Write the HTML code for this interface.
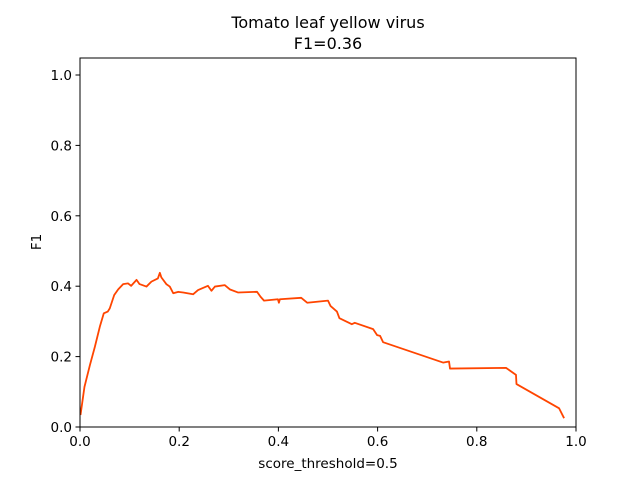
<!DOCTYPE html>
<html><head><meta charset="utf-8"><style>body{margin:0;background:#fff}svg{display:block;font-family:"DejaVu Sans","Liberation Sans",sans-serif}</style></head>
<body>
<svg id="chart" width="640" height="480">
<rect width="640" height="480" fill="#fff"/>
<text x="328" y="28" text-anchor="middle" font-size="16">Tomato leaf yellow virus</text>
<text x="328" y="49" text-anchor="middle" font-size="16">F1=0.36</text>
<g id="plot"></g>
<rect x="80" y="58" width="496" height="369" fill="none" stroke="#000" stroke-width="1"/>
<text x="328" y="468" text-anchor="middle" font-size="13.5">score_threshold=0.5</text>
<text transform="translate(41,242) rotate(-90)" text-anchor="middle" font-size="13.5">F1</text>
</svg>
<script>
const xTicks=[0,0.2,0.4,0.6,0.8,1.0];
const xTickLabels=["0.0","0.2","0.4","0.6","0.8","1.0"];
const yTicks=[0,0.2,0.4,0.6,0.8,1.0];
const yTickLabels=["0.0","0.2","0.4","0.6","0.8","1.0"];
const thresholds=[0.001,0.009,0.020,0.030,0.040,0.048,0.056,0.060,0.069,0.077,0.087,0.097,0.103,0.114,0.120,0.134,0.144,0.157,0.161,0.164,0.174,0.181,0.188,0.198,0.208,0.228,0.238,0.258,0.265,0.272,0.292,0.302,0.319,0.357,0.364,0.371,0.399,0.401,0.403,0.446,0.458,0.500,0.505,0.518,0.523,0.548,0.554,0.591,0.599,0.605,0.611,0.732,0.744,0.746,0.859,0.879,0.880,0.966,0.976];
const f1Values=[0.034,0.114,0.176,0.228,0.285,0.323,0.328,0.337,0.375,0.391,0.406,0.408,0.401,0.418,0.406,0.399,0.413,0.422,0.438,0.425,0.406,0.399,0.380,0.384,0.382,0.377,0.389,0.401,0.387,0.399,0.403,0.391,0.382,0.384,0.370,0.359,0.363,0.353,0.363,0.367,0.353,0.359,0.344,0.328,0.309,0.292,0.296,0.278,0.261,0.259,0.241,0.183,0.186,0.166,0.168,0.148,0.122,0.053,0.025];
const NS="http://www.w3.org/2000/svg";
const X=v=>80+v*496, Y=v=>427-v*352;
const g=document.getElementById('plot');
xTicks.forEach((t,i)=>{
 const l=document.createElementNS(NS,'line');
 l.setAttribute('x1',X(t));l.setAttribute('x2',X(t));l.setAttribute('y1',427);l.setAttribute('y2',431.5);l.setAttribute('stroke','#000');
 
 
 g.appendChild(l);
 const tx=document.createElementNS(NS,'text');
 tx.setAttribute('x',X(t));tx.setAttribute('y',446);tx.setAttribute('text-anchor','middle');tx.setAttribute('font-size','13.5');
 tx.textContent=xTickLabels[i];
 
 
 g.appendChild(tx);
});
yTicks.forEach((t,i)=>{
 const l=document.createElementNS(NS,'line');
 l.setAttribute('x1',75.5);l.setAttribute('x2',80);l.setAttribute('y1',Y(t));l.setAttribute('y2',Y(t));l.setAttribute('stroke','#000');
 
 
 g.appendChild(l);
 const tx=document.createElementNS(NS,'text');
 tx.setAttribute('x',72);tx.setAttribute('y',Y(t)+5);tx.setAttribute('text-anchor','end');tx.setAttribute('font-size','13.5');
 tx.textContent=yTickLabels[i];
 
 
 g.appendChild(tx);
});
const p=document.createElementNS(NS,'polyline');
p.setAttribute('points',thresholds.map((t,i)=>X(t)+','+Y(f1Values[i])).join(' '));
p.setAttribute('fill','none');p.setAttribute('stroke','#ff4500');p.setAttribute('stroke-width','1.8');p.setAttribute('stroke-linejoin','round');


g.appendChild(p);
</script>
</body></html>
